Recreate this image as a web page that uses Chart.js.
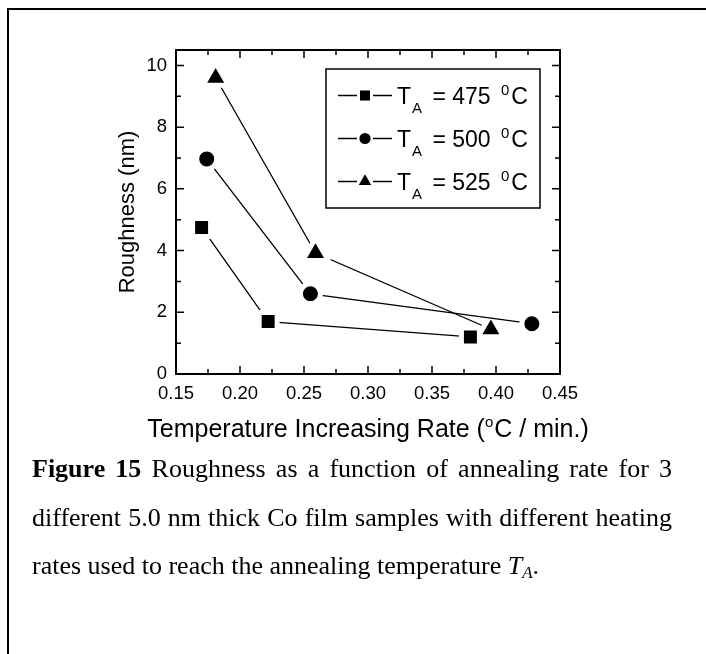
<!DOCTYPE html>
<html>
<head>
<meta charset="utf-8">
<script src="https://cdn.jsdelivr.net/npm/chart.js@4.4.1/dist/chart.umd.min.js"></script>
<style>
  html, body { margin: 0; padding: 0; background: #fff; }
  #page { position: relative; width: 706px; height: 654px; overflow: hidden; background: #fff; }
  #frame { position: absolute; left: 7px; top: 8px; width: 760px; height: 720px;
           border-left: 2px solid #000; border-top: 2px solid #000; }
  #plot { position: absolute; left: 0; top: 0; width: 706px; height: 654px; }
  #caption { position: absolute; left: 32px; top: 445px; width: 640px;
             font-family: "Liberation Serif", "Times New Roman", serif; font-size: 26px;
             line-height: 48.5px; color: #000; }
  #caption .j { text-align: justify; text-align-last: justify; }
  #caption sub { font-size: 17px; line-height: 0; vertical-align: -4px; }
</style>
</head>
<body>
<div id="page">
  <div id="frame"></div>
  <div id="plot"><canvas id="chart" width="706" height="654"></canvas></div>
  <div id="caption">
    <div class="j"><b>Figure 15</b> Roughness as a function of annealing rate for 3</div>
    <div class="j">different 5.0 nm thick Co film samples with different heating</div>
    <div>rates used to reach the annealing temperature <i>T<sub>A</sub></i>.</div>
  </div>
</div>
<script>
// Heating rate (°C / min.) and resulting roughness (nm) for each annealing temperature
const rate475  = [0.170, 0.222, 0.380];
const rough475 = [4.75, 1.70, 1.20];
const rate500  = [0.174, 0.255, 0.428];
const rough500 = [6.97, 2.60, 1.63];
const rate525  = [0.181, 0.259, 0.396];
const rough525 = [9.60, 3.92, 1.45];

const seriesTemps = ['475', '500', '525'];
const seriesStyles = ['rect', 'circle', 'triangle'];

const xTicks = [0.15, 0.20, 0.25, 0.30, 0.35, 0.40, 0.45];
const xMinorTicks = [0.175, 0.225, 0.275, 0.325, 0.375, 0.425];
const yTicks = [0, 2, 4, 6, 8, 10];
const yMinorTicks = [1, 3, 5, 7, 9];

const xTitleMain = 'Temperature Increasing Rate (';
const xTitleSup = 'o';
const xTitleEnd = 'C / min.)';

const SANS = '"Liberation Sans", Arial, sans-serif';

function pairs(xs, ys) { return xs.map((x, i) => ({ x: x, y: ys[i] })); }

// a white halo around each symbol leaves a small gap where the line meets it
const HALO = 5;
function series(label, xs, ys, style, radius) {
  return {
    label: label,
    data: pairs(xs, ys),
    borderColor: '#000',
    borderWidth: 1.3,
    pointStyle: style,
    pointRadius: radius,
    pointHoverRadius: radius,
    pointBackgroundColor: '#000',
    pointBorderColor: '#fff',
    pointBorderWidth: HALO,
    pointHoverBorderWidth: HALO,
    tension: 0,
    fill: false
  };
}

// frame of the plot with inward ticks on all four sides, plus the x title
const framePlugin = {
  id: 'frameTicks',
  beforeDatasetsDraw(chart) { chart.ctx.save(); chart.ctx.lineJoin = 'round'; },
  afterDatasetsDraw(chart) {
    chart.ctx.restore();
    const ctx = chart.ctx;
    const { left, right, top, bottom } = chart.chartArea;
    const sx = chart.scales.x, sy = chart.scales.y;
    ctx.save();
    ctx.strokeStyle = '#000';
    ctx.lineWidth = 1.5;
    const major = 8, minor = 5;
    ctx.beginPath();
    xTicks.forEach(v => { const p = sx.getPixelForValue(v);
      ctx.moveTo(p, bottom); ctx.lineTo(p, bottom - major);
      ctx.moveTo(p, top); ctx.lineTo(p, top + major); });
    xMinorTicks.forEach(v => { const p = sx.getPixelForValue(v);
      ctx.moveTo(p, bottom); ctx.lineTo(p, bottom - minor);
      ctx.moveTo(p, top); ctx.lineTo(p, top + minor); });
    yTicks.forEach(v => { const p = sy.getPixelForValue(v);
      ctx.moveTo(left, p); ctx.lineTo(left + major, p);
      ctx.moveTo(right, p); ctx.lineTo(right - major, p); });
    yMinorTicks.forEach(v => { const p = sy.getPixelForValue(v);
      ctx.moveTo(left, p); ctx.lineTo(left + minor, p);
      ctx.moveTo(right, p); ctx.lineTo(right - minor, p); });
    ctx.stroke();
    ctx.lineWidth = 2;
    ctx.strokeRect(left, top, right - left, bottom - top);

    // x axis title with a raised "o" for degrees
    ctx.fillStyle = '#000';
    ctx.textBaseline = 'alphabetic';
    ctx.textAlign = 'left';
    const big = '25px ' + SANS, small = '15px ' + SANS;
    ctx.font = big; const w1 = ctx.measureText(xTitleMain).width, w3 = ctx.measureText(xTitleEnd).width;
    ctx.font = small; const w2 = ctx.measureText(xTitleSup).width + 1;
    let tx = (left + right) / 2 - (w1 + w2 + w3) / 2;
    const base = bottom + 63;
    ctx.font = big; ctx.fillText(xTitleMain, tx, base); tx += w1;
    ctx.font = small; ctx.fillText(xTitleSup, tx, base - 10); tx += w2;
    ctx.font = big; ctx.fillText(xTitleEnd, tx, base);
    ctx.restore();
  }
};

// boxed legend: line-symbol-line sample followed by "T_A = ... 0C"
const legendPlugin = {
  id: 'boxLegend',
  afterDraw(chart) {
    const ctx = chart.ctx;
    const area = chart.chartArea;
    const boxW = 214, boxH = 139;
    const bx = area.right - 20 - boxW, by = area.top + 19;
    ctx.save();
    ctx.strokeStyle = '#000';
    ctx.lineWidth = 1.5;
    ctx.strokeRect(bx, by, boxW, boxH);
    const legendRadius = { rect: 7.1, circle: 5.6, triangle: 7.2 };
    chart.data.datasets.forEach((ds, i) => {
      const cy = by + 26.5 + i * 43;
      const mx = bx + 39;
      ctx.strokeStyle = '#000';
      ctx.lineWidth = 1.3;
      ctx.beginPath();
      ctx.moveTo(bx + 12, cy); ctx.lineTo(mx - 8, cy);
      ctx.moveTo(mx + 8, cy); ctx.lineTo(bx + 66, cy);
      ctx.stroke();
      ctx.fillStyle = '#000';
      Chart.helpers.drawPoint(ctx, { pointStyle: ds.pointStyle, radius: legendRadius[ds.pointStyle], rotation: 0, borderWidth: 0 }, mx, cy);
      // label text with subscript and superscript parts
      const base = cy + 8.5;
      let tx = bx + 71;
      ctx.textBaseline = 'alphabetic';
      ctx.textAlign = 'left';
      ctx.font = '23px ' + SANS;
      ctx.fillText('T', tx, base); tx += ctx.measureText('T').width + 1;
      ctx.font = '15px ' + SANS;
      ctx.fillText('A', tx, base + 9); tx += ctx.measureText('A').width + 4;
      ctx.font = '23px ' + SANS;
      const mid = ' = ' + ds.label + ' ';
      ctx.fillText(mid, tx, base); tx += ctx.measureText(mid).width + 4;
      ctx.font = '15px ' + SANS;
      ctx.fillText('0', tx, base - 9); tx += ctx.measureText('0').width + 2;
      ctx.font = '23px ' + SANS;
      ctx.fillText('C', tx, base);
    });
    ctx.restore();
  }
};

new Chart(document.getElementById('chart'), {
  type: 'line',
  data: {
    datasets: [
      series(seriesTemps[0], rate475, rough475, seriesStyles[0], 12.7),
      series(seriesTemps[1], rate500, rough500, seriesStyles[1], 10),
      series(seriesTemps[2], rate525, rough525, seriesStyles[2], 14.8)
    ]
  },
  options: {
    responsive: false,
    animation: false,
    events: [],
    devicePixelRatio: 1,
    layout: { padding: { left: 115, top: 50, right: 146, bottom: 212 } },
    plugins: { legend: { display: false }, tooltip: { enabled: false } },
    scales: {
      x: {
        type: 'linear', min: 0.15, max: 0.45,
        afterFit(s) { s.height = 68; },
        afterBuildTicks(s) { s.ticks = xTicks.map(v => ({ value: v })); },
        grid: { display: false, drawTicks: false },
        border: { display: false },
        ticks: { padding: 9, color: '#000', autoSkip: false, maxRotation: 0,
                 font: { family: SANS, size: 18.5 },
                 callback: v => Number(v).toFixed(2) },
        title: { display: false }
      },
      y: {
        type: 'linear', min: 0, max: 10.5,
        afterFit(s) { s.width = 61; },
        afterBuildTicks(s) { s.ticks = yTicks.map(v => ({ value: v })); },
        grid: { display: false, drawTicks: false },
        border: { display: false },
        ticks: { padding: 9, color: '#000', autoSkip: false,
                 font: { family: SANS, size: 18.5 },
                 callback: v => String(v) },
        title: { display: true, text: 'Roughness (nm)', color: '#000',
                 padding: 0, font: { family: SANS, size: 22 } }
      }
    }
  },
  plugins: [framePlugin, legendPlugin]
});
</script>
</body>
</html>
